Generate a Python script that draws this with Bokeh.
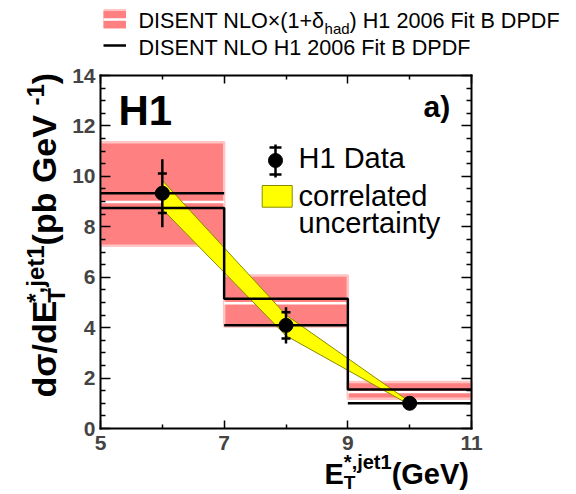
import math
from bokeh.plotting import figure
from bokeh.models import (Range1d, FixedTicker, LinearAxis, Label, Legend,
                          LegendItem)
from bokeh.embed import file_html
from bokeh.resources import INLINE

# ---------------- data ----------------
bin_lo = [5.0, 7.0, 9.0]
bin_hi = [7.0, 9.0, 11.0]
nlo = [8.75, 5.15, 1.55]              # DISENT NLO H1 2006 Fit B DPDF
nlo_had = [8.98, 4.97, 1.45]          # DISENT NLO x (1+delta_had), central
nlo_had_lo = [7.25, 4.05, 1.18]       # band lower edge
nlo_had_hi = [11.35, 6.07, 1.84]      # band upper edge
data_x = [6.0, 8.0, 10.0]
data_y = [9.33, 4.09, 1.00]
data_stat = [0.78, 0.52, 0.07]
data_tot = [1.35, 0.72, 0.14]
corr_x = [6.0, 8.0, 10.0]
corr_hi = [9.84, 4.50, 1.06]
corr_lo = [8.70, 3.68, 0.94]
x_major = [5, 7, 9, 11]
x_minor = [6, 8, 10]
y_major = [0, 2, 4, 6, 8, 10, 12, 14]
y_minor = [0.5, 1, 1.5, 2.5, 3, 3.5, 4.5, 5, 5.5, 6.5, 7, 7.5, 8.5, 9, 9.5,
           10.5, 11, 11.5, 12.5, 13, 13.5]

# ---------------- layout (pixels) ----------------
W, H = 576, 494
BOX_L, BOX_R, BOX_T, BOX_B = 100, 471, 75, 428   # axes box on the canvas
XMIN, XMAX, YMIN, YMAX = 5, 11, 0, 14
FONT = "Liberation Sans"
PINK, PINK_EDGE = "#ff8080", "#ffc4c4"

# the plotting frame covers the whole canvas; the axes are pinned to the box
sx = (BOX_R - BOX_L) / (XMAX - XMIN)
sy = (BOX_B - BOX_T) / (YMAX - YMIN)
p = figure(width=W, height=H,
           x_range=Range1d(XMIN - BOX_L / sx, XMAX + (W - BOX_R) / sx),
           y_range=Range1d(YMIN - (H - BOX_B) / sy, YMAX + BOX_T / sy),
           output_backend="svg", toolbar_location=None, min_border=0)
p.background_fill_color = "white"
p.border_fill_color = "white"
p.outline_line_color = None
p.xgrid.visible = False
p.ygrid.visible = False
p.extra_x_ranges["px"] = Range1d(0, W)
p.extra_y_ranges["px"] = Range1d(0, H)


def style_axis(ax, ticker, tin, loc, bounds):
    ax.ticker = ticker
    ax.fixed_location = loc
    ax.bounds = bounds
    ax.axis_line_width = 2
    ax.axis_line_color = "black"
    ax.axis_line_cap = "square"
    ax.major_tick_in = tin
    ax.major_tick_out = 0
    ax.minor_tick_in = tin // 2
    ax.minor_tick_out = 0
    ax.major_tick_line_width = 1.5
    ax.minor_tick_line_width = 1.5
    ax.major_label_text_color = None
    ax.major_label_standoff = 0


xt = FixedTicker(ticks=x_major, minor_ticks=x_minor)
yt = FixedTicker(ticks=y_major, minor_ticks=y_minor)
style_axis(p.xaxis[0], xt, 8, YMIN, (XMIN, XMAX))
style_axis(p.yaxis[0], yt, 10, XMIN, (YMIN, YMAX))
top_ax = LinearAxis()
right_ax = LinearAxis()
style_axis(top_ax, xt, 8, YMAX, (XMIN, XMAX))
style_axis(right_ax, yt, 10, XMAX, (YMIN, YMAX))
p.add_layout(top_ax, "above")
p.add_layout(right_ax, "right")

# tick labels, placed through the data scales
for v in x_major:
    p.add_layout(Label(x=v, y=YMIN, y_offset=-7, text=str(v), text_font=FONT,
                       text_font_style="bold", text_font_size="21px",
                       text_align="center", text_baseline="top"))
for v in y_major:
    p.add_layout(Label(x=XMIN, y=v, x_offset=-5, text=str(v), text_font=FONT,
                       text_font_style="bold", text_font_size="21px",
                       text_align="right", text_baseline="middle"))

# ---------------- marks ----------------
p.quad(left=bin_lo, right=bin_hi, bottom=nlo_had_lo, top=nlo_had_hi,
       fill_color=PINK, line_color=PINK_EDGE, line_width=2.5)
white_r = p.segment(x0=bin_lo, y0=nlo_had, x1=bin_hi, y1=nlo_had,
                    line_color="white", line_width=2.5)
p.patch(x=corr_x + corr_x[::-1], y=corr_hi + corr_lo[::-1],
        fill_color="#ffff00", line_color="#8a8a00", line_width=1)
step_r = p.step(x=bin_lo + [bin_hi[-1]], y=nlo + [nlo[-1]], mode="after",
                line_color="black", line_width=2.5)
p.segment(x0=bin_lo, y0=data_y, x1=bin_hi, y1=data_y,
          line_color="black", line_width=2.5)
p.segment(x0=data_x, y0=[y - e for y, e in zip(data_y, data_tot)],
          x1=data_x, y1=[y + e for y, e in zip(data_y, data_tot)],
          line_color="black", line_width=2.5)
p.scatter(x=data_x + data_x,
          y=[y + e for y, e in zip(data_y, data_stat)] + [y - e for y, e in zip(data_y, data_stat)],
          marker="dash", size=9, line_color="black", line_width=2.5)
p.scatter(x=data_x, y=data_y, size=14, fill_color="black", line_color="black")

# ---------------- top legend (swatches) ----------------
nan = float("nan")
edge_proxy = p.segment(x0=[nan], y0=[nan], x1=[nan], y1=[nan],
                       line_color=PINK_EDGE, line_width=21)
pink_proxy = p.segment(x0=[nan], y0=[nan], x1=[nan], y1=[nan],
                       line_color=PINK, line_width=17)
top_leg = Legend(items=[LegendItem(label=" ", renderers=[edge_proxy, pink_proxy, white_r]),
                        LegendItem(label=" ", renderers=[step_r])],
                 location=(102.7, H - 55.3), glyph_width=23, glyph_height=20,
                 label_width=0, label_height=20, label_standoff=0,
                 label_text_font_size="8px", spacing=6, padding=0, margin=0,
                 border_line_alpha=0, background_fill_alpha=0)
p.add_layout(top_leg)

# ---------------- inner legend key (canvas pixels, y up) ----------------
KX, KY = 275, H - 160
p.segment(x0=[KX], y0=[KY - 17], x1=[KX], y1=[KY + 16], x_range_name="px",
          y_range_name="px", line_color="black", line_width=2.5)
p.scatter(x=[KX, KX], y=[KY + 13, KY - 14], marker="dash", size=12,
          x_range_name="px", y_range_name="px", line_color="black", line_width=2.5)
p.scatter(x=[KX], y=[KY], size=14, x_range_name="px", y_range_name="px",
          fill_color="black", line_color="black")
p.quad(left=[KX - 13.3], right=[KX + 16.7], bottom=[KY - 46.7], top=[KY - 25],
       x_range_name="px", y_range_name="px", fill_color="#ffff00",
       line_color="#8a8a00", line_width=1)

# ---------------- texts ----------------
REG = {' ': 278, '(': 333, ')': 333, '+': 584, '×': 584, '0': 556, '1': 556,
       '2': 556, '6': 556, 'A': 667, 'B': 667, 'D': 722, 'E': 667, 'F': 611,
       'H': 722, 'I': 278, 'L': 556, 'N': 722, 'O': 778, 'P': 667, 'S': 667,
       'T': 611, 'a': 556, 'd': 556, 'h': 556, 'i': 222, 't': 278, 'δ': 556}
BOLD = {' ': 278, '(': 333, ')': 333, '/': 278, '*': 389, ',': 278, '-': 333,
        '1': 556, 'E': 667, 'G': 778, 'T': 611, 'V': 667, 'b': 611, 'd': 611,
        'e': 556, 'j': 278, 'p': 611, 't': 333, 'σ': 620}
MID = 0.35   # distance from baseline to the text's middle, in em


def tw(text, size, bold):
    tab = BOLD if bold else REG
    return sum(tab.get(c, 556) for c in text) / 1000.0 * size


def put(text, cx, cy, size, bold=False, vertical=False, font=FONT):
    """(cx, cy): start of the baseline on the canvas, y measured downwards."""
    if vertical:
        ax, ay, ang = cx - MID * size, cy, math.pi / 2
    else:
        ax, ay, ang = cx, cy - MID * size, 0.0
    p.add_layout(Label(x=ax, y=H - ay, x_units="screen", y_units="screen",
                       text=text, text_font=font, text_font_size=f"{size}px",
                       text_font_style="bold" if bold else "normal",
                       text_align="left", text_baseline="middle",
                       angle=ang, text_color="black"))


def rich(parts, start, base, bold, vertical=False):
    pos = start
    for text, size, rise, adv in parts:
        if vertical:
            put(text, base - rise, pos, size, bold, vertical=True)
            if adv:
                pos -= tw(text, size, bold)
        else:
            put(text, pos, base - rise, size, bold)
            if adv:
                pos += tw(text, size, bold)


# top legend labels
rich([("DISENT NLO×(1+δ", 21.6, 0, True), ("had", 15, -6, True),
      (") H1 2006 Fit B DPDF", 21.6, 0, True)], 138, 27.5, False)
put("DISENT NLO H1 2006 Fit B DPDF", 138, 55, 21.6)

# inner legend labels
put("H1 Data", 298, 168, 29)
put("correlated", 298, 205.5, 29)
put("uncertainty", 298, 232.5, 29)

# logo and panel tag
put("H1", 118, 125, 42, bold=True)
put("a)", 423, 116.5, 30, bold=True)

# y-axis title (rotated)
rich([("dσ/dE", 34, 0, True), ("T", 24, -9, False), ("*,jet1", 24, 12, True),
      (" (pb GeV", 34, 0, True), ("-1", 24, 12, True), (")", 34, 0, True)],
     397, 55, True, vertical=True)
# x-axis title
rich([("E", 29, 0, True), ("T", 19, -5, False), ("*,jet1", 20, 16, True),
      ("(GeV)", 29, 0, True)], 324, 484, True)

open("out.html", "w").write(file_html(p, INLINE))
